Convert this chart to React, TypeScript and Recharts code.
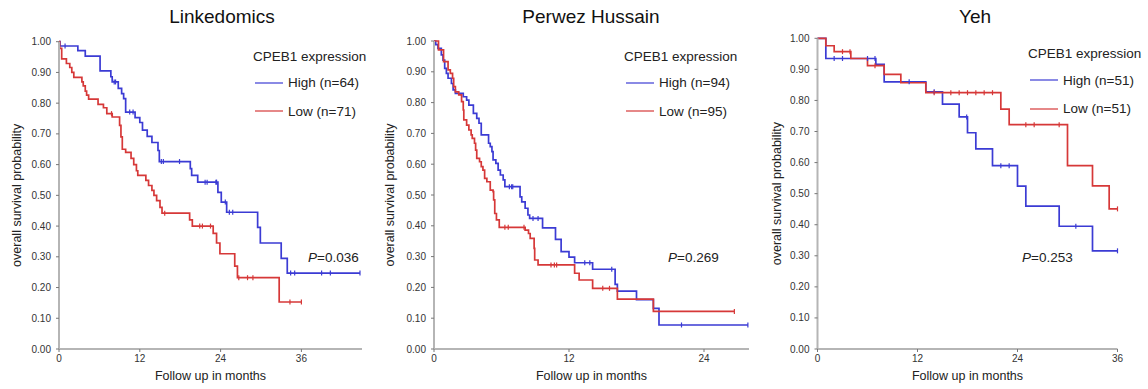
import React from 'react';
import { ComposedChart, Line, Scatter, XAxis, YAxis } from 'recharts';

const FONT = '"Liberation Sans", Arial, sans-serif';
const BLUE = '#3b3bd4';
const RED = '#d63838';

const yTicks = [0, 0.1, 0.2, 0.3, 0.4, 0.5, 0.6, 0.7, 0.8, 0.9, 1];

// Linkedomics
const linkHighTimes = [0.15, 2.8, 3.9, 6.1, 7.7, 7.9, 8.8, 9.3, 9.6, 9.9, 11.3, 12.0, 12.4, 13.1, 13.8, 14.7, 14.9, 19.5, 19.7, 20.6, 23.6, 24.1, 24.9, 29.5, 29.9, 33.0, 33.9];
const linkHighSurv = [0.986, 0.971, 0.953, 0.905, 0.886, 0.869, 0.848, 0.831, 0.815, 0.771, 0.753, 0.737, 0.712, 0.692, 0.672, 0.646, 0.61, 0.587, 0.565, 0.543, 0.51, 0.478, 0.445, 0.396, 0.345, 0.295, 0.247];
const linkHighCensor = [0.9, 8.2, 8.4, 10.5, 11.0, 15.2, 15.5, 17.9, 21.7, 22.0, 23.3, 23.4, 24.7, 25.3, 25.8, 34.4, 35.0, 39.0, 40.3, 44.7];
const linkLowTimes = [0.1, 0.4, 1.1, 1.6, 1.9, 2.2, 3.4, 3.6, 3.9, 4.1, 4.4, 5.8, 6.6, 7.1, 7.9, 9.0, 9.2, 9.4, 9.9, 10.7, 11.1, 11.5, 11.7, 12.9, 13.3, 13.8, 14.1, 14.5, 15.0, 15.3, 19.4, 19.8, 22.9, 23.4, 23.9, 26.1, 26.5, 32.7];
const linkLowSurv = [0.978, 0.944, 0.929, 0.916, 0.9, 0.884, 0.869, 0.856, 0.839, 0.826, 0.813, 0.796, 0.785, 0.766, 0.755, 0.728, 0.69, 0.65, 0.64, 0.62, 0.6, 0.58, 0.565, 0.549, 0.532, 0.516, 0.5, 0.483, 0.461, 0.442, 0.42, 0.4, 0.376, 0.345, 0.31, 0.27, 0.232, 0.153];
const linkLowCensor = [7.8, 15.7, 20.9, 21.3, 22.5, 26.7, 28.0, 28.8, 34.3, 36.0];

// Perwez Hussain
const perHighTimes = [0.15, 0.35, 0.65, 0.8, 0.95, 1.1, 1.25, 1.55, 1.7, 1.9, 2.6, 2.9, 3.1, 3.5, 3.8, 4.0, 4.2, 4.85, 5.0, 5.15, 5.25, 5.5, 5.7, 5.9, 6.15, 6.3, 7.65, 7.8, 8.1, 8.35, 8.5, 9.65, 10.8, 11.3, 12.0, 12.5, 14.1, 16.1, 16.3, 18.0, 19.5, 20.0];
const perHighSurv = [0.988, 0.976, 0.955, 0.938, 0.911, 0.895, 0.879, 0.862, 0.841, 0.83, 0.819, 0.808, 0.792, 0.765, 0.749, 0.733, 0.695, 0.668, 0.657, 0.641, 0.614, 0.603, 0.581, 0.565, 0.549, 0.527, 0.494, 0.478, 0.457, 0.435, 0.424, 0.393, 0.356, 0.316, 0.298, 0.28, 0.259, 0.21, 0.188, 0.16, 0.132, 0.078];
const perHighCensor = [6.7, 6.9, 7.0, 8.8, 9.25, 13.4, 13.85, 15.8, 22.0, 27.9];
const perLowTimes = [0.4, 0.85, 1.25, 1.45, 1.65, 1.75, 1.9, 2.2, 2.45, 2.6, 2.65, 2.9, 3.1, 3.3, 3.4, 3.6, 3.7, 3.8, 4.05, 4.2, 4.35, 4.5, 4.7, 5.0, 5.25, 5.3, 5.4, 5.55, 5.8, 8.1, 8.4, 8.55, 8.9, 8.95, 9.25, 12.5, 12.9, 14.1, 16.3, 19.5];
const perLowSurv = [0.971, 0.933, 0.906, 0.895, 0.879, 0.852, 0.835, 0.825, 0.803, 0.776, 0.744, 0.727, 0.711, 0.695, 0.684, 0.668, 0.646, 0.619, 0.608, 0.592, 0.581, 0.554, 0.543, 0.516, 0.511, 0.484, 0.44, 0.419, 0.395, 0.386, 0.375, 0.359, 0.327, 0.289, 0.273, 0.246, 0.224, 0.197, 0.162, 0.122];
const perLowCensor = [6.3, 6.6, 8.0, 10.4, 10.7, 10.9, 15.0, 15.6, 26.7];

// Yeh
const yehHighTimes = [1, 7, 8, 13, 15, 17, 18, 19, 21, 24, 25, 29, 33];
const yehHighSurv = [0.935, 0.916, 0.86, 0.828, 0.788, 0.747, 0.696, 0.644, 0.59, 0.524, 0.46, 0.395, 0.316];
const yehHighCensor = [2, 3, 6, 6.9, 11, 14, 17.9, 22, 23, 31, 36];
const yehLowTimes = [1, 2, 4, 6, 8, 10, 13, 22, 23, 30, 33, 35];
const yehLowSurv = [0.976, 0.957, 0.935, 0.912, 0.884, 0.857, 0.825, 0.772, 0.722, 0.59, 0.525, 0.451];
const yehLowCensor = [3, 3.9, 6.9, 14, 16, 17, 18, 19, 20, 21, 25, 26, 29, 36];

type Pt = { t: number; s: number };

function survAt(times: number[], surv: number[], t: number) {
  let s = 1;
  times.forEach((tt, i) => {
    if (tt <= t) s = surv[i];
  });
  return s;
}

function curve(times: number[], surv: number[], censor: number[]): Pt[] {
  const pts: Pt[] = [{ t: 0, s: 1 }];
  times.forEach((t, i) => pts.push({ t, s: surv[i] }));
  const end = Math.max(times[times.length - 1], ...censor);
  pts.push({ t: end, s: surv[surv.length - 1] });
  return pts;
}

function censored(times: number[], surv: number[], censor: number[]): Pt[] {
  return censor.map((t) => ({ t, s: survAt(times, surv, t) }));
}

const tickMark = (color: string) => (props: any) => (
  <line x1={props.cx} x2={props.cx} y1={props.cy - 2.5} y2={props.cy + 2.5} stroke={color} strokeWidth={1.2} />
);

type PanelProps = {
  title: string;
  titleX: number;
  left: number;
  width: number;
  yAxisWidth: number;
  marginRight: number;
  marginTop: number;
  xMax: number;
  xTicks: number[];
  yLabelOffset: number;
  high: [number[], number[], number[]];
  low: [number[], number[], number[]];
  nHigh: number;
  nLow: number;
  legendX: number;
  legendY: number;
  pText: string;
  pX: number;
};

function Panel(p: PanelProps) {
  const xAxisH = 389 - 349;
  const hi = curve(...p.high);
  const lo = curve(...p.low);
  const hiC = censored(...p.high);
  const loC = censored(...p.low);
  const tickStyle = { fontSize: 10, fill: '#333', fontFamily: FONT };
  return (
    <>
      <div style={{ position: 'absolute', left: p.titleX - 150, width: 300, top: 7, textAlign: 'center', fontSize: 19, lineHeight: '19px', color: '#111' }}>
        {p.title}
      </div>
      <div style={{ position: 'absolute', left: p.left, top: 0 }}>
        <ComposedChart width={p.width} height={389} margin={{ top: p.marginTop, right: p.marginRight, bottom: 0, left: 0 }}>
          <XAxis
            type="number"
            dataKey="t"
            domain={[0, p.xMax]}
            ticks={p.xTicks}
            height={xAxisH}
            axisLine={{ stroke: '#b5b5b5', strokeWidth: 2 }}
            tickLine={{ stroke: '#777' }}
            tickSize={3}
            tickMargin={3}
            tick={tickStyle}
            label={{ value: 'Follow up in months', position: 'insideBottom', offset: 9, style: { fontSize: 12.5, fill: '#222', fontFamily: FONT } }}
          />
          <YAxis
            type="number"
            domain={[0, 1]}
            ticks={yTicks}
            width={p.yAxisWidth}
            tickFormatter={(v: number) => v.toFixed(2)}
            axisLine={{ stroke: '#b5b5b5', strokeWidth: 2 }}
            tickLine={{ stroke: '#777' }}
            tickSize={3}
            tickMargin={5}
            tick={tickStyle}
            label={{ value: 'overall survival probability', angle: -90, position: 'insideLeft', offset: p.yLabelOffset, style: { textAnchor: 'middle', fontSize: 12.5, fill: '#222', fontFamily: FONT } }}
          />
          <Line data={hi} dataKey="s" type="stepAfter" stroke={BLUE} strokeWidth={1.7} dot={false} isAnimationActive={false} />
          <Line data={lo} dataKey="s" type="stepAfter" stroke={RED} strokeWidth={1.7} dot={false} isAnimationActive={false} />
          <Scatter data={hiC} dataKey="s" shape={tickMark(BLUE)} isAnimationActive={false} />
          <Scatter data={loC} dataKey="s" shape={tickMark(RED)} isAnimationActive={false} />
        </ComposedChart>
      </div>
      <div style={{ position: 'absolute', left: p.legendX, top: p.legendY - 7, fontSize: 13.5, lineHeight: '14px', color: '#222', whiteSpace: 'nowrap' }}>
        CPEB1 expression
      </div>
      {[
        { color: BLUE, text: `High (n=${p.nHigh})`, dy: 26 },
        { color: RED, text: `Low (n=${p.nLow})`, dy: 54.5 },
      ].map((r) => (
        <div key={r.text} style={{ position: 'absolute', left: p.legendX + 2, top: p.legendY + r.dy - 7, height: 14, display: 'flex', alignItems: 'center', fontSize: 13.5, color: '#222', whiteSpace: 'nowrap' }}>
          <svg width={28} height={14} style={{ marginRight: 5 }}>
            <line x1={0} x2={28} y1={7} y2={7} stroke={r.color} strokeWidth={1.2} />
          </svg>
          {r.text}
        </div>
      ))}
      <div style={{ position: 'absolute', left: p.pX, top: 251, fontSize: 13.5, lineHeight: '14px', color: '#222', whiteSpace: 'nowrap' }}>
        <i>P</i>={p.pText}
      </div>
    </>
  );
}

export default function App() {
  return (
    <div style={{ position: 'absolute', left: 0, top: 0, width: 1148, height: 389, background: '#fff', fontFamily: FONT }}>
      <Panel
        title="Linkedomics"
        titleX={222}
        left={0}
        width={375}
        yAxisWidth={59}
        marginRight={13}
        marginTop={41.7}
        xMax={45}
        xTicks={[0, 12, 24, 36]}
        yLabelOffset={17}
        high={[linkHighTimes, linkHighSurv, linkHighCensor]}
        low={[linkLowTimes, linkLowSurv, linkLowCensor]}
        nHigh={64}
        nLow={71}
        legendX={253}
        legendY={56.7}
        pText="0.036"
        pX={308}
      />
      <Panel
        title="Perwez Hussain"
        titleX={591}
        left={380}
        width={375}
        yAxisWidth={54}
        marginRight={6}
        marginTop={41}
        xMax={28}
        xTicks={[0, 12, 24]}
        yLabelOffset={10}
        high={[perHighTimes, perHighSurv, perHighCensor]}
        low={[perLowTimes, perLowSurv, perLowCensor]}
        nHigh={94}
        nLow={95}
        legendX={624}
        legendY={56.7}
        pText="0.269"
        pX={668}
      />
      <Panel
        title="Yeh"
        titleX={975}
        left={760}
        width={1140 - 760}
        yAxisWidth={57.5}
        marginRight={22.5}
        marginTop={38.3}
        xMax={36}
        xTicks={[0, 12, 24, 36]}
        yLabelOffset={17}
        high={[yehHighTimes, yehHighSurv, yehHighCensor]}
        low={[yehLowTimes, yehLowSurv, yehLowCensor]}
        nHigh={51}
        nLow={51}
        legendX={1028}
        legendY={54}
        pText="0.253"
        pX={1022}
      />
    </div>
  );
}
